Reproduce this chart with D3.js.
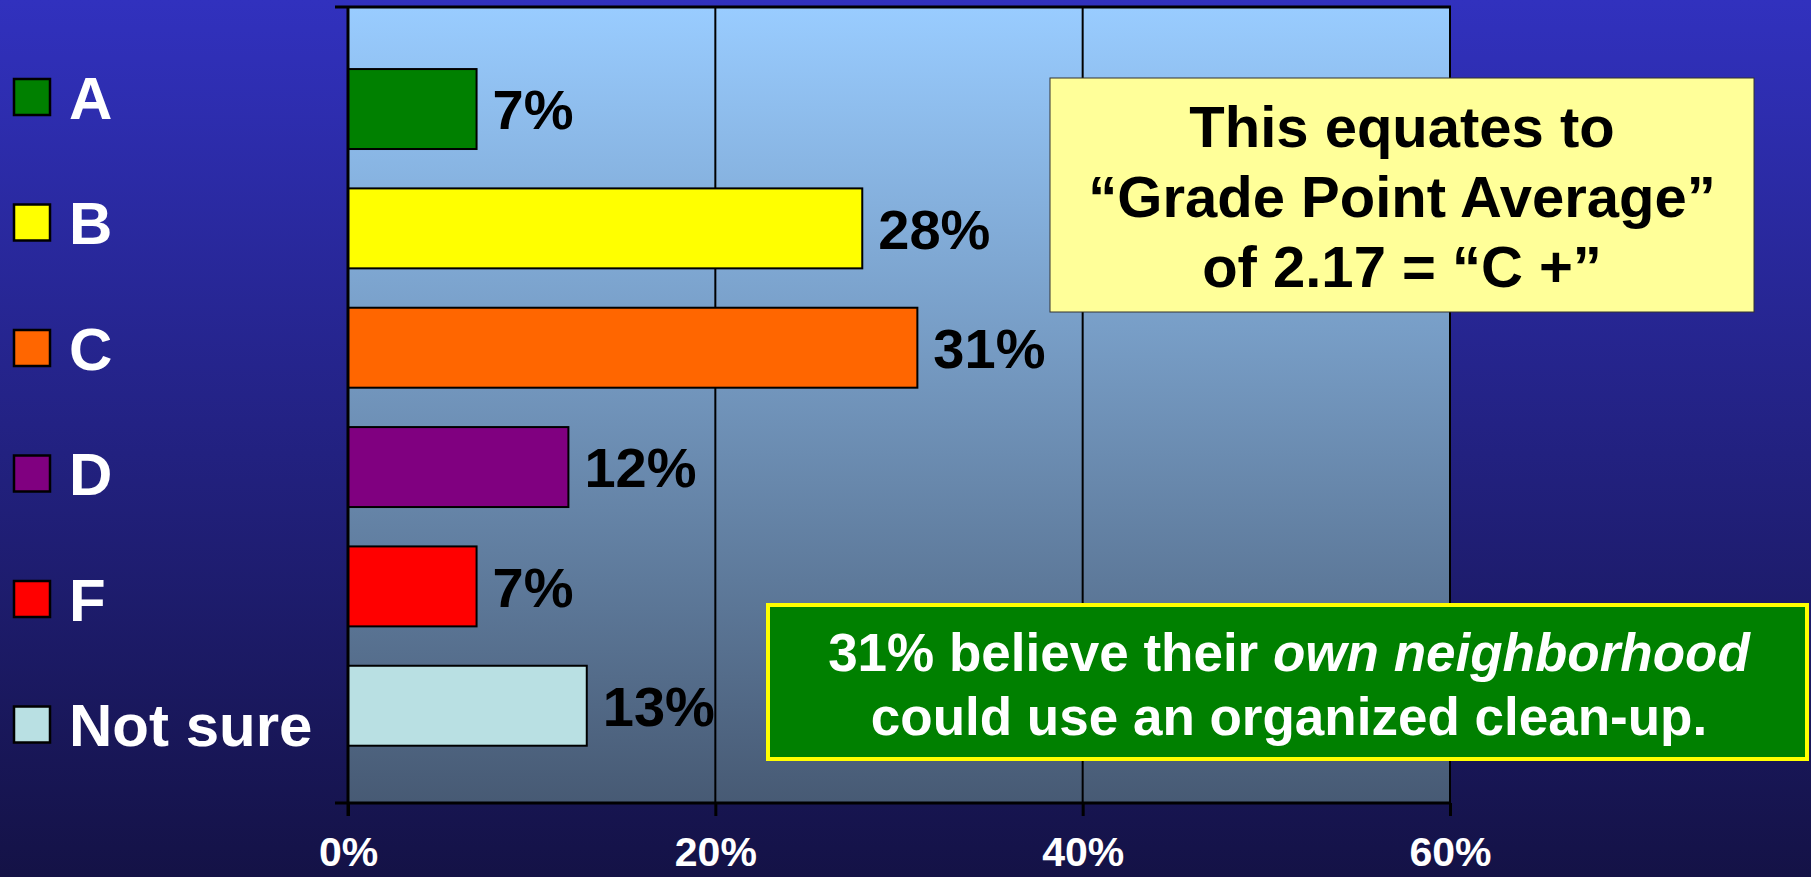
<!DOCTYPE html>
<html>
<head>
<meta charset="utf-8">
<script src="https://cdn.jsdelivr.net/npm/d3@7"></script>
<style>
  body { margin: 0; overflow: hidden; }
  svg { display: block; font-family: "Liberation Sans", Arial, sans-serif; font-weight: bold; }
</style>
</head>
<body>
<div id="chart"></div>
<script>
// data
const categories = ["A", "B", "C", "D", "F", "Not sure"];
const values = [7, 28, 31, 12, 7, 13];
const colors = ["#008000", "#FFFF00", "#FF6600", "#800080", "#FF0000", "#B9E0E3"];
const xTicks = [0, 20, 40, 60];
const noteLines = ["This equates to", "\u201CGrade Point Average\u201D", "of 2.17 = \u201CC +\u201D"];
const calloutLines = [
  [["31% believe their ", false], ["own neighborhood", true]],
  [["could use an organized clean-up.", false]]
];

var W = 1811, H = 877;
var plot = {left: 348, right: 1450, top: 7, bottom: 803};

var svg = d3.select("#chart").append("svg")
  .attr("width", W)
  .attr("height", H);

// gradients
var defs = svg.append("defs");
var bg = defs.append("linearGradient").attr("id", "bg")
  .attr("x1", 0).attr("y1", 0).attr("x2", 0).attr("y2", 1);
bg.append("stop").attr("offset", "0%").attr("stop-color", "#3131BE");
bg.append("stop").attr("offset", "100%").attr("stop-color", "#141246");
var pg = defs.append("linearGradient").attr("id", "pg")
  .attr("x1", 0).attr("y1", 0).attr("x2", 0).attr("y2", 1);
pg.append("stop").attr("offset", "0%").attr("stop-color", "#99CCFF");
pg.append("stop").attr("offset", "100%").attr("stop-color", "#475A74");

svg.append("rect").attr("width", W).attr("height", H).attr("fill", "url(#bg)");

// scales
var x = d3.scaleLinear().domain([0, 60]).range([plot.left, plot.right]);
var y = d3.scaleBand().domain(categories)
  .range([plot.top, plot.bottom])
  .paddingInner(0.33).paddingOuter(0.5).align(0.52);
var color = d3.scaleOrdinal().domain(categories).range(colors);

// plot area
svg.append("rect")
  .attr("x", plot.left).attr("y", plot.top)
  .attr("width", plot.right - plot.left).attr("height", plot.bottom - plot.top)
  .attr("fill", "url(#pg)");

// gridlines
svg.selectAll(".grid")
  .data(xTicks.filter(d => d > 0))
  .enter().append("line")
  .attr("class", "grid")
  .attr("x1", d => x(d)).attr("x2", d => x(d))
  .attr("y1", plot.top).attr("y2", plot.bottom)
  .attr("stroke", "#000").attr("stroke-width", 2);

// bars
svg.selectAll(".bar")
  .data(categories)
  .enter().append("rect")
  .attr("class", "bar")
  .attr("x", x(0))
  .attr("y", d => y(d))
  .attr("width", (d, i) => x(values[i]) - x(0))
  .attr("height", y.bandwidth())
  .attr("fill", d => color(d))
  .attr("stroke", "#000").attr("stroke-width", 2);

// value labels
svg.selectAll(".val")
  .data(categories)
  .enter().append("text")
  .attr("class", "val")
  .attr("x", (d, i) => x(values[i]) + 16)
  .attr("y", d => y(d) + y.bandwidth() / 2)
  .attr("dy", "0.36em")
  .attr("font-size", 56)
  .attr("fill", "#000")
  .text((d, i) => values[i] + "%");

// bottom axis
var xAxis = svg.append("g")
  .attr("transform", "translate(0," + plot.bottom + ")")
  .call(d3.axisBottom(x).tickValues(xTicks).tickSize(13).tickSizeOuter(0).tickFormat(d => d + "%"));
xAxis.select(".domain").remove();
xAxis.selectAll(".tick line").attr("stroke", "#000").attr("stroke-width", 3);
xAxis.selectAll(".tick text")
  .attr("y", 63).attr("dy", 0)
  .attr("fill", "#fff")
  .attr("font-size", 41)
  .attr("font-family", "\"Liberation Sans\", Arial, sans-serif")
  .attr("font-weight", "bold");

// plot frame: bottom, top, left axis line
svg.append("line")
  .attr("x1", plot.left - 13).attr("x2", plot.right + 1)
  .attr("y1", plot.bottom).attr("y2", plot.bottom)
  .attr("stroke", "#000").attr("stroke-width", 3);
svg.append("line")
  .attr("x1", plot.left - 13).attr("x2", plot.right + 1)
  .attr("y1", plot.top).attr("y2", plot.top)
  .attr("stroke", "#000").attr("stroke-width", 3);
svg.append("line")
  .attr("x1", plot.left).attr("x2", plot.left)
  .attr("y1", plot.top).attr("y2", plot.bottom + 13)
  .attr("stroke", "#000").attr("stroke-width", 3);

// legend
var ly = d3.scalePoint().domain(categories).range([97, 724.5]);
var legend = svg.selectAll(".legend")
  .data(categories)
  .enter().append("g")
  .attr("class", "legend")
  .attr("transform", d => "translate(0," + ly(d) + ")");
legend.append("rect")
  .attr("x", 14).attr("y", -18)
  .attr("width", 36).attr("height", 36)
  .attr("fill", d => color(d))
  .attr("stroke", "#000").attr("stroke-width", 2.5);
legend.append("text")
  .attr("x", 69)
  .attr("dy", "0.36em")
  .attr("font-size", 60)
  .attr("fill", "#fff")
  .text(d => d);

// yellow note box
var note = svg.append("g");
note.append("rect")
  .attr("x", 1050).attr("y", 78)
  .attr("width", 704).attr("height", 234)
  .attr("fill", "#FFFF99")
  .attr("stroke", "#333").attr("stroke-width", 1);
note.selectAll("text")
  .data(noteLines)
  .enter().append("text")
  .attr("x", 1402)
  .attr("y", (d, i) => 147 + i * 70)
  .attr("text-anchor", "middle")
  .attr("font-size", 58)
  .attr("fill", "#000")
  .text(d => d);

// green callout box
var callout = svg.append("g");
callout.append("rect")
  .attr("x", 768).attr("y", 605)
  .attr("width", 1039).attr("height", 154)
  .attr("fill", "#008000")
  .attr("stroke", "#FFFF00").attr("stroke-width", 4);
var ct = callout.selectAll("text")
  .data(calloutLines)
  .enter().append("text")
  .attr("x", 1289)
  .attr("y", (d, i) => 671 + i * 64)
  .attr("text-anchor", "middle")
  .attr("font-size", 53)
  .attr("fill", "#fff");
ct.selectAll("tspan")
  .data(d => d)
  .enter().append("tspan")
  .attr("font-style", d => d[1] ? "italic" : "normal")
  .text(d => d[0]);
</script>
</body>
</html>
